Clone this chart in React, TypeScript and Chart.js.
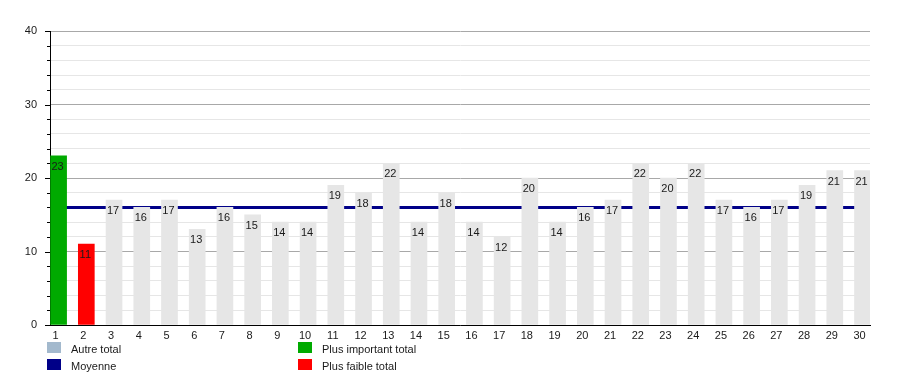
import React, { useEffect, useRef } from 'react';
import { Chart, registerables } from 'chart.js';

Chart.register(...registerables);

// ---- Data ----
const CATEGORIES: number[] = [
  1, 2, 3, 4, 5, 6, 7, 8, 9, 10, 11, 12, 13, 14, 15,
  16, 17, 18, 19, 20, 21, 22, 23, 24, 25, 26, 27, 28, 29, 30,
];
const TOTALS: number[] = [
  23, 11, 17, 16, 17, 13, 16, 15, 14, 14, 19, 18, 22, 14, 18,
  14, 12, 20, 14, 16, 17, 22, 20, 22, 17, 16, 17, 19, 21, 21,
];
const MEAN = 16;
const Y_MIN = 0;
const Y_MAX = 40;
const Y_STEP = 2;
const Y_LABEL_STEP = 10;
const LEGEND_LABELS: string[] = ['Autre total', 'Moyenne', 'Plus important total', 'Plus faible total'];

// ---- Styles ----
const FONT = '"Liberation Sans", Arial, Helvetica, sans-serif';
const C_OTHER_BAR = '#e6e6e6';
const C_OTHER_LEGEND = '#a3b9cd';
const C_MEAN = '#000088';
const C_MAX = '#00aa00';
const C_MIN = '#ff0000';
const LEGEND_COLORS: string[] = [C_OTHER_LEGEND, C_MEAN, C_MAX, C_MIN];

export default function App() {
  const canvasRef = useRef<HTMLCanvasElement | null>(null);

  useEffect(() => {
    const canvas = canvasRef.current;
    if (!canvas) return;

    const maxVal = Math.max(...TOTALS);
    const minVal = Math.min(...TOTALS);
    const maxIdx = TOTALS.indexOf(maxVal);
    const minIdx = TOTALS.indexOf(minVal);
    const barColors = TOTALS.map((_, i) => (i === maxIdx ? C_MAX : i === minIdx ? C_MIN : C_OTHER_BAR));

    const valueLabels = {
      id: 'valueLabels',
      afterDatasetsDraw(chart: any) {
        const meta = chart.getDatasetMeta(0);
        const ctx = chart.ctx;
        ctx.save();
        ctx.font = `11px ${FONT}`;
        ctx.fillStyle = '#1a1a1a';
        ctx.textAlign = 'center';
        ctx.textBaseline = 'middle';
        meta.data.forEach((el: any, i: number) => {
          ctx.fillText(String(TOTALS[i]), el.x - 1, el.y + 11);
        });
        ctx.restore();
      },
    };

    const yTicksAndLegend = {
      id: 'yTicksAndLegend',
      afterDraw(chart: any) {
        const ctx = chart.ctx;
        const y = chart.scales.y;
        const area = chart.chartArea;
        ctx.save();
        ctx.strokeStyle = '#000';
        ctx.lineWidth = 1;
        y.ticks.forEach((t: any) => {
          const py = Math.round(y.getPixelForValue(t.value)) + 0.5;
          const len = t.value % Y_LABEL_STEP === 0 ? 5 : 3;
          ctx.beginPath();
          ctx.moveTo(area.left - len, py);
          ctx.lineTo(area.left, py);
          ctx.stroke();
        });

        // legend (two columns, two rows)
        const colX = [area.left - 3, area.left + 248];
        const rowY = [342, 359];
        ctx.font = `11px ${FONT}`;
        ctx.textAlign = 'left';
        ctx.textBaseline = 'middle';
        LEGEND_LABELS.forEach((label, i) => {
          const col = Math.floor(i / 2);
          const row = i % 2;
          const x = colX[col];
          const yy = rowY[row];
          ctx.fillStyle = LEGEND_COLORS[i];
          ctx.fillRect(x, yy, 14, 11);
          ctx.fillStyle = '#1a1a1a';
          ctx.fillText(label, x + 24, yy + 8);
        });
        ctx.restore();
      },
    };

    const chart = new Chart(canvas, {
      type: 'bar',
      data: {
        datasets: [
          {
            type: 'bar',
            label: 'Totals',
            data: CATEGORIES.map((c, i) => ({ x: c, y: TOTALS[i] })),
            backgroundColor: barColors,
            borderWidth: 0,
            barThickness: 16,
            order: 1,
          } as any,
          {
            type: 'line',
            label: 'Moyenne',
            data: CATEGORIES.map((c) => ({ x: c, y: MEAN })),
            borderColor: C_MEAN,
            borderWidth: 3,
            pointRadius: 0,
            fill: false,
            order: 2,
          } as any,
        ],
      },
      options: {
        animation: false,
        responsive: false,
        devicePixelRatio: 1,
        layout: { padding: { left: 0, top: 31, right: 30, bottom: 30 } },
        plugins: {
          legend: { display: false },
          tooltip: { enabled: false },
          title: { display: false },
        },
        scales: {
          x: {
            type: 'linear',
            offset: false,
            min: 0.69,
            max: 30.27,
            afterBuildTicks: (axis: any) => {
              axis.ticks = CATEGORIES.map((v) => ({ value: v }));
            },
            afterFit: (axis: any) => {
              axis.height = 20;
            },
            grid: { display: false, drawTicks: false, offset: false },
            border: { display: true, color: '#000', width: 1 },
            ticks: {
              autoSkip: false,
              maxRotation: 0,
              padding: 4,
              labelOffset: -3,
              color: '#1a1a1a',
              font: { family: FONT, size: 11 },
              callback: (v: any) => String(v),
            },
          },
          y: {
            type: 'linear',
            min: Y_MIN,
            max: Y_MAX,
            afterFit: (axis: any) => {
              axis.width = 50;
            },
            grid: {
              drawTicks: false,
              color: (ctx: any) => (ctx.tick && ctx.tick.value % Y_LABEL_STEP === 0 ? '#a8a8a8' : '#e6e6e6'),
              lineWidth: 1,
            },
            border: { display: true, color: '#000', width: 1 },
            ticks: {
              stepSize: Y_STEP,
              autoSkip: false,
              padding: 13,
              color: '#1a1a1a',
              font: { family: FONT, size: 11 },
              callback: (v: any) => (Number(v) % Y_LABEL_STEP === 0 ? String(v) : ''),
            },
          },
        },
      } as any,
      plugins: [valueLabels, yTicksAndLegend],
    });

    return () => {
      chart.destroy();
    };
  }, []);

  return (
    <div style={{ position: 'fixed', left: 0, top: 0, width: 900, height: 375, background: '#fff' }}>
      <canvas ref={canvasRef} width={900} height={375} style={{ display: 'block' }} />
    </div>
  );
}
